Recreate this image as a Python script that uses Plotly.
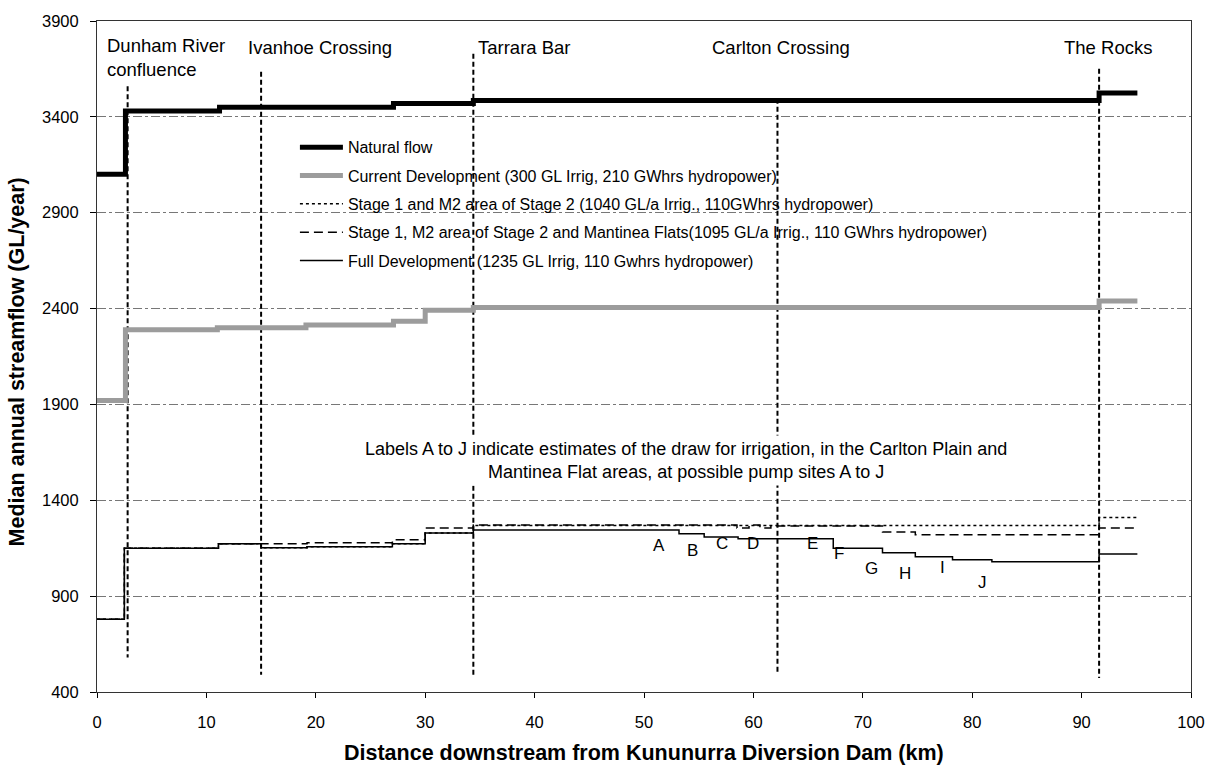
import plotly.graph_objects as go

# ---------------- data ----------------
natural_x = [0, 2.6, 11.2, 27.1, 34.4, 91.6, 95.1]
natural_y = [3100, 3430, 3450, 3470, 3485, 3525, 3525]

current_x = [0, 2.6, 11.0, 19.1, 27.1, 30.0, 34.4, 91.6, 95.1]
current_y = [1920, 2290, 2300, 2314, 2334, 2391, 2405, 2440, 2440]

stage1_x = [0, 2.5, 11.1, 15.0, 19.2, 27.0, 30.0, 34.4, 91.6, 95.1]
stage1_y = [780, 1150, 1173, 1152, 1157, 1173, 1230, 1268, 1310, 1310]

mantinea_x = [0, 2.5, 11.1, 19.2, 27.0, 30.0, 34.4, 58.5, 59.6, 60.6, 61.6, 71.8, 74.8, 91.6, 95.1]
mantinea_y = [780, 1150, 1173, 1178, 1194, 1256, 1271, 1256, 1271, 1256, 1266, 1235, 1220, 1255, 1255]

full_x = [0, 2.5, 11.1, 15.0, 19.2, 27.0, 30.0, 34.4, 53.2, 55.5, 58.6, 67.3, 71.8, 74.8, 78.2, 81.8, 91.6, 95.1]
full_y = [780, 1150, 1173, 1152, 1157, 1173, 1230, 1245, 1225, 1209, 1199, 1150, 1126, 1105, 1090, 1079, 1120, 1120]

series_names = [
    "Natural flow",
    "Current Development (300 GL Irrig, 210 GWhrs hydropower)",
    "Stage 1 and M2 area of Stage 2 (1040 GL/a Irrig., 110GWhrs hydropower)",
    "Stage 1, M2 area of Stage 2 and Mantinea Flats(1095 GL/a Irrig., 110 GWhrs hydropower)",
    "Full Development (1235 GL Irrig, 110 Gwhrs hydropower)",
]

site_names = ["Dunham River<br>confluence", "Ivanhoe Crossing", "Tarrara Bar", "Carlton Crossing", "The Rocks"]
site_km = [2.8, 15.0, 34.4, 62.2, 91.6]
site_top = [3560, 3635, 3729, 3495, 3651]
site_bottom = [580, 490, 490, 490, 473]
site_label_km = [0.73, 13.6, 34.6, 56.0, 88.2]

letters = ["A", "B", "C", "D", "E", "F", "G", "H", "I", "J"]
letter_x = [51.4, 54.4, 57.1, 60.0, 65.4, 67.8, 70.8, 73.9, 77.3, 80.9]
letter_y = [1162, 1136, 1173, 1173, 1173, 1121, 1043, 1017, 1048, 970]

y_ticks = [400, 900, 1400, 1900, 2400, 2900, 3400, 3900]
x_ticks = [0, 10, 20, 30, 40, 50, 60, 70, 80, 90, 100]

FONT = "Arial, Liberation Sans, Helvetica, sans-serif"

# pixel helpers for layout placement
PL, PT, PW, PH = 97, 17, 1100, 675
def py(pix):
    return 1 - (pix - PT) / PH

fig = go.Figure()

# vertical site lines
vx, vy = [], []
for k, t, b in zip(site_km, site_top, site_bottom):
    vx += [k, k, None]
    vy += [t, b, None]
fig.add_trace(go.Scatter(x=vx, y=vy, mode="lines", showlegend=False, hoverinfo="skip",
                         line=dict(color="black", width=2, dash="5px,3px")))

styles = [
    dict(color="black", width=5),
    dict(color="#9c9c9c", width=5),
    dict(color="black", width=1.5, dash="dot"),
    dict(color="black", width=1.5, dash="9px,5px"),
    dict(color="black", width=1.5),
]
for i, (xs, ys) in enumerate([(natural_x, natural_y), (current_x, current_y), (stage1_x, stage1_y),
                              (mantinea_x, mantinea_y), (full_x, full_y)]):
    fig.add_trace(go.Scatter(x=xs, y=ys, mode="lines", name=series_names[i], line_shape="hv",
                             line=styles[i], legendgroup=f"g{i}"))

annotations = []
for name, k in zip(site_names, site_label_km):
    annotations.append(dict(x=k, y=py(31) if "<br>" not in name else py(29), xref="x", yref="paper",
                            text=name, showarrow=False, xanchor="left", yanchor="top", align="left",
                            font=dict(family=FONT, size=18.5, color="black")))
for l, lx, ly in zip(letters, letter_x, letter_y):
    annotations.append(dict(x=lx, y=ly, xref="x", yref="y", text=l, showarrow=False,
                            font=dict(family=FONT, size=17, color="black")))
annotations.append(dict(x=53.8, y=1608, xref="x", yref="y",
                        text="Labels A to J indicate estimates of the draw for irrigation, in the Carlton Plain and<br>Mantinea Flat areas, at possible pump sites A to J",
                        showarrow=False, align="center", bgcolor="white", borderpad=3,
                        font=dict(family=FONT, size=18, color="black")))
annotations.append(dict(x=0.5, y=-61 / PH, xref="paper", yref="paper",
                        text="<b>Distance downstream from Kununurra Diversion Dam (km)</b>",
                        showarrow=False, yanchor="middle",
                        font=dict(family=FONT, size=21.5, color="black")))
annotations.append(dict(x=(17 - PL) / PW, y=py(360), xref="paper", yref="paper",
                        text="<b>Median annual streamflow (GL/year)</b>", textangle=-90,
                        showarrow=False, xanchor="center", yanchor="middle",
                        font=dict(family=FONT, size=21.5, color="black")))

fig.update_layout(
    width=1217, height=772,
    margin=dict(l=PL, r=1217 - PL - PW, t=PT, b=772 - PT - PH),
    paper_bgcolor="white", plot_bgcolor="white",
    font=dict(family=FONT, size=16, color="black"),
    showlegend=True,
    legend=dict(x=(296 - PL) / PW, y=py(127), xanchor="left", yanchor="top",
                bgcolor="rgba(0,0,0,0)", font=dict(family=FONT, size=16, color="black"),
                itemwidth=43, tracegroupgap=4.5, traceorder="grouped"),
    annotations=annotations,
    xaxis=dict(range=[0, 100], tickvals=x_ticks, ticks="outside", ticklen=5, tickcolor="black",
               showgrid=False, zeroline=False, showline=True, linecolor="#333", linewidth=1,
               mirror=True, tickfont=dict(family=FONT, size=16.5), ticklabelstandoff=10),
    yaxis=dict(range=[400, 3900], tickvals=y_ticks, ticks="outside", ticklen=6, tickcolor="black",
               showgrid=True, gridcolor="#777", gridwidth=1, griddash="dashdot",
               zeroline=False, showline=True, linecolor="#333", linewidth=1, mirror=True,
               tickfont=dict(family=FONT, size=16.5), ticklabelstandoff=8),
)

fig.write_html("out.html")
